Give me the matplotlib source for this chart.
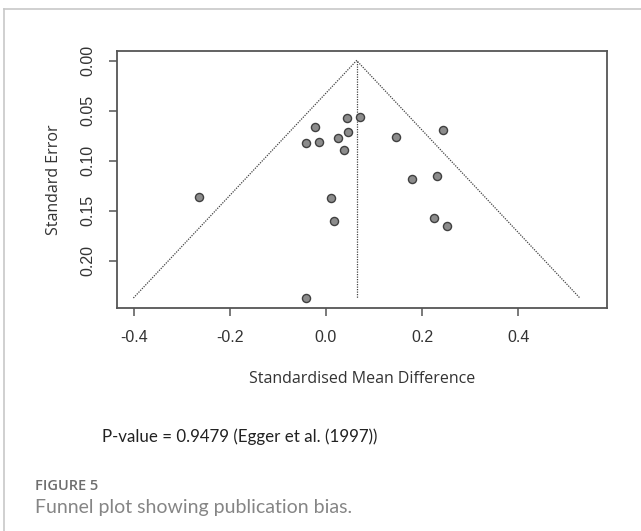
import matplotlib.pyplot as plt
from matplotlib.lines import Line2D
import numpy as np

# study effects
smd = [-0.264, -0.042, -0.022, -0.015, 0.045, 0.071, 0.047, 0.025, 0.038,
       0.147, 0.243, 0.180, 0.232, 0.010, 0.017, 0.226, 0.252, -0.042]
se = [0.136, 0.082, 0.066, 0.081, 0.057, 0.056, 0.071, 0.077, 0.089,
      0.076, 0.069, 0.118, 0.115, 0.137, 0.160, 0.157, 0.165, 0.237]
pooled = 0.064
x_ticks = [-0.4, -0.2, 0.0, 0.2, 0.4]
y_ticks = [0.00, 0.05, 0.10, 0.15, 0.20]

W, H = 641, 531
fig = plt.figure(figsize=(W / 100, H / 100), dpi=100)

# page frame (top / left rule)
fig.add_artist(Line2D([4.3 / W, 4.3 / W], [0, 1 - 9.3 / H], color='#c8c8c8', lw=1.2))
fig.add_artist(Line2D([4.3 / W, 1], [1 - 9.3 / H, 1 - 9.3 / H], color='#c8c8c8', lw=1.2))

left, right, top, bottom = 117.3, 606.5, 51, 307.5
ax = fig.add_axes([left / W, 1 - bottom / H, (right - left) / W, (bottom - top) / H])

# funnel (pseudo 95% limits)
se_max = max(se)
z = 1.96
ax.plot([pooled - z * se_max, pooled, pooled + z * se_max], [se_max, 0, se_max],
        ls=(0, (1, 1)), color='#444444', lw=0.9)
ax.plot([pooled, pooled], [0, se_max], ls=(0, (1, 1)), color='#444444', lw=0.9)

ax.scatter(smd, se, s=34, facecolor='#8c8c8c', edgecolor='#404040', linewidth=1.0, zorder=3)

ax.set_xlim(-0.434, 0.584)
ax.set_ylim(se_max * 1.04, -se_max * 0.04)
ax.set_xticks(x_ticks)
ax.set_xticklabels(['%.1f' % v for v in x_ticks])
ax.set_yticks(y_ticks)
ax.set_yticklabels(['%.2f' % v for v in y_ticks], rotation=90, va='center')

for s in ax.spines.values():
    s.set_color('#555555')
    s.set_linewidth(1.3)
ax.tick_params(length=6, width=1.1, color='#555555', labelcolor='#333333',
               labelsize=11.5, pad=10)
for lab in ax.get_xticklabels() + ax.get_yticklabels():
    lab.set_family('Liberation Sans')

ax.set_xlabel('Standardised Mean Difference', family='Open Sans', fontsize=11.5,
              color='#333333', labelpad=19)
ax.set_ylabel('Standard Error', family='Open Sans', fontsize=11.5,
              color='#333333', labelpad=13)

fig.text(101.7 / W, 1 - 436.5 / H, 'P-value = 0.9479 (Egger et al. (1997))',
         family='Lato', fontsize=12.2, color='#222222', va='center')
fig.text(35 / W, 1 - 486 / H, 'FIGURE 5', family='Open Sans', fontweight='semibold',
         fontsize=10.5, color='#6e6e6e', va='center')
fig.text(35 / W, 1 - 508 / H, 'Funnel plot showing publication bias.', family='Lato',
         fontsize=14, color='#858585', va='center')

fig.savefig('out.png', dpi=100)
